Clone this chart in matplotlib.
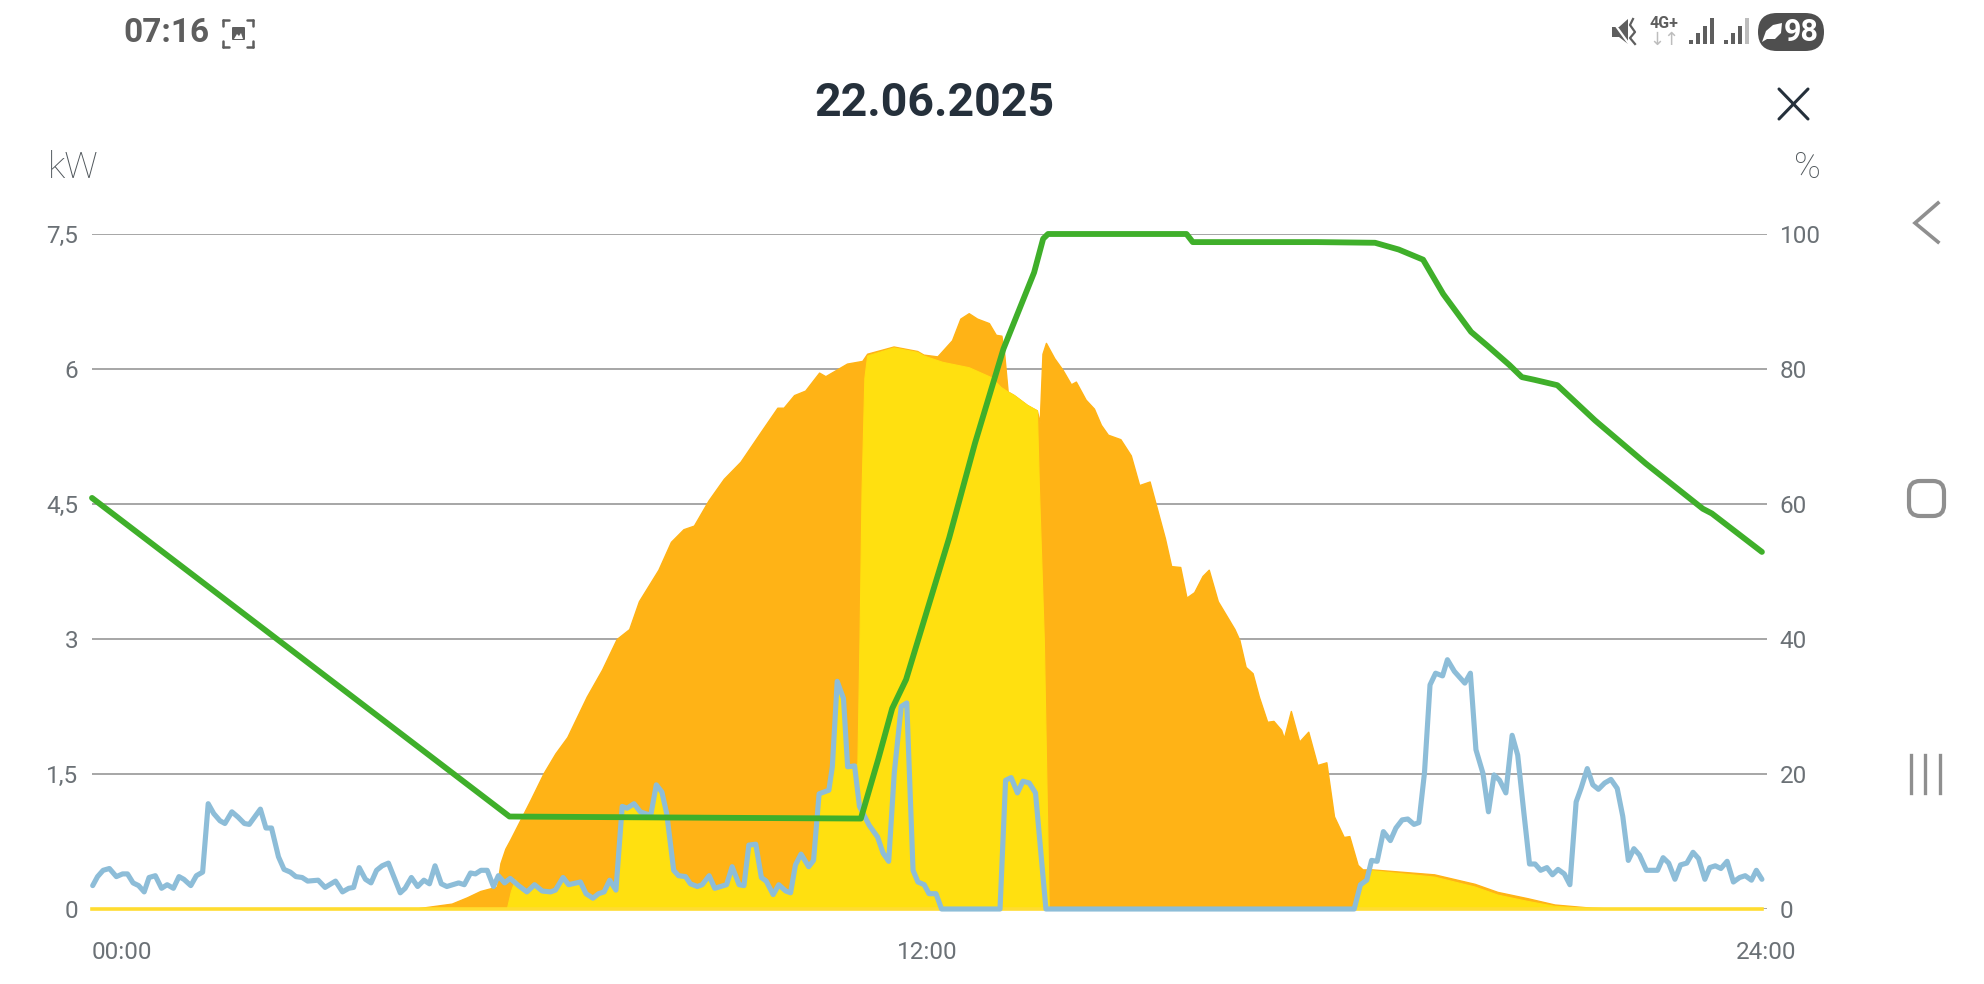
# Necessary library imports
import matplotlib
matplotlib.use('Agg')
import matplotlib.pyplot as plt
from matplotlib.patches import FancyBboxPatch, Polygon, Rectangle
from matplotlib.transforms import ScaledTranslation

# Chart values
hour_ticks = [0, 12, 24]
hour_labels = ['00:00', '12:00', '24:00']
kw_ticks = [0, 1.5, 3, 4.5, 6, 7.5]
kw_labels = ['0', '1,5', '3', '4,5', '6', '7,5']
pct_ticks = [0, 20, 40, 60, 80, 100]

# Battery level in percent
soc_hours = [0, 6.0, 9.23, 11.05, 11.3, 11.5, 11.7, 12.32, 12.69, 13.1, 13.54, 13.67, 13.74, 15.73, 15.82,
             17.6, 18.44, 18.78, 19.13, 19.42, 19.82, 20.06, 20.37, 20.55, 20.73, 21.06, 21.6, 22.33, 23.15,
             23.28, 24]
soc_pct = [60.9, 13.7, 13.5, 13.4, 22.2, 29.7, 34, 55, 69, 83, 94.3, 99.3, 100, 100, 98.8,
           98.8, 98.7, 97.7, 96.2, 91.1, 85.5, 83.4, 80.6, 78.8, 78.4, 77.6, 72.4, 66, 59.3,
           58.6, 52.9]

# Consumption
load_hours = [0.01, 0.08, 0.16, 0.25, 0.35, 0.44, 0.51, 0.59, 0.67, 0.75, 0.82, 0.91, 1.00, 1.08, 1.17, 1.25,
              1.32, 1.42, 1.50, 1.59, 1.67, 1.75, 1.84, 1.91, 2.01, 2.10, 2.19, 2.26, 2.42, 2.50, 2.58, 2.68,
              2.76, 2.85, 2.93, 3.02, 3.10, 3.25, 3.35, 3.50, 3.60, 3.69, 3.76, 3.84, 3.93, 4.01, 4.09, 4.17,
              4.26, 4.43, 4.50, 4.59, 4.68, 4.77, 4.85, 4.93, 5.02, 5.10, 5.27, 5.35, 5.44, 5.51, 5.59, 5.68,
              5.77, 5.84, 5.93, 6.01, 6.13, 6.25, 6.36, 6.47, 6.59, 6.66, 6.77, 6.85, 7.02, 7.10, 7.20, 7.28,
              7.36, 7.44, 7.53, 7.62, 7.69, 7.79, 7.88, 8.03, 8.11, 8.19, 8.26, 8.36, 8.43, 8.53, 8.60, 8.70,
              8.77, 8.87, 8.95, 9.12, 9.20, 9.30, 9.37, 9.44, 9.54, 9.62, 9.69, 9.79, 9.87, 9.97, 10.04, 10.11,
              10.19, 10.30, 10.37, 10.45, 10.59, 10.64, 10.71, 10.80, 10.86, 10.96, 11.03, 11.17, 11.29, 11.37,
              11.45, 11.53, 11.63, 11.71, 11.80, 11.87, 11.96, 12.03, 12.13, 12.21, 12.99, 13.05, 13.13, 13.21,
              13.30, 13.38, 13.47, 13.56, 13.71, 18.14, 18.23, 18.32, 18.39, 18.47, 18.56, 18.66, 18.74, 18.83,
              18.91, 19.00, 19.07, 19.15, 19.23, 19.31, 19.41, 19.48, 19.58, 19.73, 19.81, 19.89, 19.99, 20.07,
              20.15, 20.23, 20.32, 20.41, 20.49, 20.58, 20.66, 20.74, 20.82, 20.91, 20.99, 21.07, 21.16, 21.24,
              21.33, 21.40, 21.49, 21.57, 21.65, 21.74, 21.83, 21.92, 22.00, 22.08, 22.16, 22.24, 22.34, 22.50,
              22.58, 22.66, 22.75, 22.83, 22.92, 23.01, 23.09, 23.18, 23.25, 23.33, 23.41, 23.50, 23.59, 23.68,
              23.76, 23.85, 23.92, 24.0]
load_kw = [0.26, 0.36, 0.43, 0.45, 0.36, 0.39, 0.39, 0.29, 0.26, 0.19, 0.35, 0.37, 0.23, 0.27, 0.23, 0.36,
           0.33, 0.26, 0.37, 0.41, 1.17, 1.06, 0.98, 0.95, 1.08, 1.02, 0.95, 0.94, 1.11, 0.90, 0.90, 0.58,
           0.44, 0.41, 0.36, 0.35, 0.31, 0.32, 0.24, 0.31, 0.19, 0.23, 0.24, 0.46, 0.33, 0.29, 0.43, 0.48,
           0.51, 0.18, 0.23, 0.35, 0.25, 0.32, 0.28, 0.48, 0.28, 0.25, 0.29, 0.27, 0.40, 0.39, 0.43, 0.43,
           0.25, 0.37, 0.29, 0.34, 0.26, 0.19, 0.27, 0.20, 0.19, 0.21, 0.35, 0.27, 0.30, 0.17, 0.12, 0.17,
           0.19, 0.32, 0.21, 1.14, 1.12, 1.17, 1.08, 1.04, 1.38, 1.30, 1.06, 0.43, 0.37, 0.36, 0.28, 0.25,
           0.27, 0.37, 0.23, 0.27, 0.47, 0.27, 0.26, 0.71, 0.72, 0.35, 0.31, 0.16, 0.27, 0.20, 0.18, 0.49,
           0.61, 0.47, 0.54, 1.28, 1.32, 1.58, 2.53, 2.34, 1.58, 1.59, 1.14, 0.93, 0.80, 0.62,
           0.53, 1.51, 2.25, 2.29, 0.43, 0.30, 0.27, 0.17, 0.17, 0.0, 0.0, 0.0, 1.43, 1.46,
           1.29, 1.42, 1.40, 1.29, 0.0, 0.0, 0.27, 0.32, 0.54, 0.53, 0.86, 0.76, 0.90, 0.99,
           1.00, 0.94, 0.96, 1.51, 2.49, 2.62, 2.59, 2.77, 2.64, 2.51, 2.62, 1.77, 1.51, 1.08,
           1.49, 1.43, 1.29, 1.93, 1.71, 1.06, 0.50, 0.50, 0.43, 0.46, 0.38, 0.44, 0.39, 0.27,
           1.19, 1.34, 1.56, 1.38, 1.33, 1.40, 1.44, 1.34, 1.03, 0.54, 0.67, 0.60, 0.43, 0.43,
           0.57, 0.51, 0.33, 0.49, 0.51, 0.63, 0.56, 0.33, 0.46, 0.48, 0.45, 0.53, 0.30, 0.35,
           0.37, 0.32, 0.43, 0.33]

# Solar production
pv_hours = [0, 4.60, 5.17, 5.39, 5.58, 5.82, 5.87, 5.94, 6.01, 6.30, 6.49, 6.66, 6.83, 7.11, 7.33, 7.54, 7.72,
            7.86, 8.14, 8.32, 8.50, 8.65, 8.86, 9.08, 9.32, 9.61, 9.85, 9.94, 10.09, 10.25, 10.45, 10.54, 10.85,
            11.07, 11.14, 11.52, 11.86, 11.95, 12.15, 12.36, 12.48, 12.60, 12.72, 12.89, 12.99, 13.07, 13.11,
            13.16, 13.25, 13.44, 13.58, 13.62, 13.66, 13.71, 13.83, 13.95, 14.07, 14.14, 14.28, 14.40, 14.50,
            14.60, 14.78, 14.93, 15.05, 15.20, 15.42, 15.51, 15.64, 15.73, 15.84, 15.96, 16.05, 16.18, 16.42,
            16.49, 16.58, 16.68, 16.77, 16.89, 16.98, 17.09, 17.13, 17.23, 17.35, 17.48, 17.61, 17.74, 17.85,
            17.99, 18.07, 18.19, 18.26, 18.40, 19.29, 19.87, 20.20, 20.63, 21.02, 21.54, 22.0, 24.0]
pv_kw = [0, 0, 0.06, 0.13, 0.20, 0.25, 0.51, 0.67, 0.77, 1.21, 1.51, 1.73, 1.91, 2.36, 2.66, 3.0, 3.11,
         3.42, 3.77, 4.08, 4.22, 4.26, 4.54, 4.78, 4.97, 5.30, 5.57, 5.57, 5.71, 5.76, 5.96, 5.92, 6.06,
         6.09, 6.17, 6.25, 6.20, 6.16, 6.14, 6.32, 6.56, 6.62, 6.56, 6.51, 6.38, 6.37, 6.17,
         5.75, 5.71, 5.60, 5.54, 5.40, 6.17, 6.29, 6.12, 5.99, 5.83, 5.86, 5.66, 5.56, 5.38,
         5.27, 5.22, 5.04, 4.71, 4.75, 4.12, 3.81, 3.80, 3.46, 3.52, 3.70, 3.77, 3.42, 3.11,
         2.99, 2.69, 2.62, 2.36, 2.08, 2.09, 1.99, 1.90, 2.20, 1.86, 1.97, 1.60, 1.63, 1.03,
         0.80, 0.81, 0.49, 0.44, 0.44, 0.385, 0.28, 0.19, 0.12, 0.05, 0.015, 0, 0]

# Solar used directly in the house and battery
direct_hours = [0, 5.96, 6.02, 6.08, 6.13, 6.25, 6.36, 6.47, 6.59, 6.66, 6.77, 6.85, 7.02, 7.10, 7.20, 7.28,
                7.36, 7.44, 7.53, 7.62, 7.69, 7.79, 7.88, 8.03, 8.11, 8.19, 8.26, 8.36, 8.43, 8.53, 8.60, 8.70,
                8.77, 8.87, 8.95, 9.12, 9.20, 9.30, 9.37, 9.44, 9.54, 9.62, 9.69, 9.79, 9.87, 9.97, 10.04, 10.11,
                10.19, 10.30, 10.37, 10.45, 10.59, 10.64, 10.71, 10.80, 10.86, 10.96, 11.00, 11.03, 11.06, 11.10, 11.14,
                11.52, 11.86, 11.95, 12.22, 12.60, 12.92, 13.06, 13.16, 13.25, 13.44, 13.58, 13.61, 13.68, 13.75,
                18.16, 18.23, 18.32, 18.39, 18.40, 19.29, 19.87, 20.20, 20.63, 21.02, 21.54, 22.0, 24.0]
direct_kw = [0, 0, 0.2, 0.33, 0.26, 0.19, 0.27, 0.20, 0.19, 0.21, 0.35, 0.27, 0.30, 0.17, 0.12, 0.17,
             0.19, 0.32, 0.21, 1.14, 1.12, 1.17, 1.08, 1.04, 1.38, 1.30, 1.06, 0.43, 0.37, 0.36, 0.28, 0.25,
             0.27, 0.37, 0.23, 0.27, 0.47, 0.27, 0.26, 0.71, 0.72, 0.35, 0.31, 0.16, 0.27, 0.20, 0.18, 0.49,
             0.61, 0.47, 0.54, 1.28, 1.32, 1.58, 2.53, 2.34, 1.58, 1.59, 1.62, 2.99, 4.66, 5.90, 6.15,
             6.24, 6.19, 6.15, 6.08, 6.02, 5.91, 5.80, 5.75, 5.71, 5.60, 5.54, 4.66, 2.99, 0,
             0, 0.27, 0.32, 0.43, 0.43, 0.36, 0.25, 0.16, 0.09, 0.035, 0.01, 0, 0]

# Color palette
orange = '#FFB316'
yellow = '#FFE010'
lightBlue = '#8DBDD8'
green = '#3FAF2A'
gridGrey = '#A6A6A6'
textGrey = '#6B7176'
headGrey = '#50575C'
iconGrey = '#5E5E5E'
navGrey = '#8F8F8F'
titleDark = '#25303B'

plt.rcParams['font.family'] = ['Roboto', 'DejaVu Sans']

W, H = 1984, 984
fig = plt.figure(figsize = (W/100, H/100), dpi = 100, facecolor = 'white')

# Plot area: 00:00 at x=92, 7.5 kW at y=234, 0 at y=909
left, right, top, bottom = 92, 1767, 234, 909
ax = fig.add_axes([left/W, 1 - bottom/H, (right - left)/W, (bottom - top)/H])
ax.set_xlim(0, (right - left)/69.58)
ax.set_ylim(0, 7.5)
ax.set_facecolor('none')
for side in ax.spines.values():
    side.set_visible(False)

ax.set_yticks(kw_ticks)
ax.set_yticklabels(kw_labels)
ax.tick_params(axis = 'y', length = 0, pad = 10, labelsize = 17.5, labelcolor = textGrey)
ax.grid(axis = 'y', color = gridGrey, linewidth = 1.4, zorder = 0)
ax.set_axisbelow(True)

ax.set_xticks(hour_ticks)
ax.set_xticklabels(hour_labels)
ax.tick_params(axis = 'x', length = 0, pad = 23, labelsize = 17.5, labelcolor = textGrey)
tick_text = ax.get_xticklabels()
tick_text[0].set_ha('left')
tick_text[2].set_transform(tick_text[2].get_transform() + ScaledTranslation(4/100, 0, fig.dpi_scale_trans))

ax.fill_between(pv_hours, pv_kw, 0, color = orange, linewidth = 1, zorder = 2)
ax.fill_between(direct_hours, direct_kw, 0, color = yellow, linewidth = 0.8, zorder = 3)
ax.plot([hour_ticks[0], hour_ticks[-1]], [0, 0], color = '#FFDC30', linewidth = 2.6, clip_on = False, zorder = 3)
ax.plot(load_hours, load_kw, color = lightBlue, linewidth = 3.7, clip_on = False, zorder = 4,
        solid_joinstyle = 'round', solid_capstyle = 'round')

# Right axis for the battery level
ax2 = ax.twinx()
ax2.set_ylim(0, 100)
ax2.set_facecolor('none')
for side in ax2.spines.values():
    side.set_visible(False)
ax2.set_yticks(pct_ticks)
ax2.tick_params(axis = 'y', length = 0, pad = 9, labelsize = 17.5, labelcolor = textGrey)
ax2.plot(soc_hours, soc_pct, color = green, linewidth = 4.2, clip_on = False, zorder = 5,
         solid_joinstyle = 'round', solid_capstyle = 'round')

# Overlay in pixel coordinates for the phone screen around the chart
ui = fig.add_axes([0, 0, 1, 1])
ui.set_xlim(0, W)
ui.set_ylim(H, 0)
ui.axis('off')
ui.patch.set_alpha(0)

ui.text(934.5, 103, '22.06.2025', fontsize = 33.5, fontweight = 'bold', color = titleDark, ha = 'center', va = 'center')
ui.text(48, 168, 'kW', fontsize = 26.5, fontweight = 'light', color = headGrey, ha = 'left', va = 'center')
ui.text(1807, 168, '%', fontsize = 26, fontweight = 'light', color = headGrey, ha = 'center', va = 'center')
ui.text(123, 33, '07:16', fontsize = 24, fontweight = 'bold', color = iconGrey, ha = 'left', va = 'center')

# Close cross
ui.plot([1779, 1808], [89, 119], color = titleDark, linewidth = 2.2, solid_capstyle = 'round')
ui.plot([1779, 1808], [119, 89], color = titleDark, linewidth = 2.2, solid_capstyle = 'round')

# Screenshot icon
for x0, x1, y0, y1 in [(223, 229, 20, 20), (223, 223, 20, 26), (247, 253, 20, 20), (253, 253, 20, 26),
                       (223, 229, 47, 47), (223, 223, 41, 47), (247, 253, 47, 47), (253, 253, 41, 47)]:
    ui.plot([x0, x1], [y0, y1], color = iconGrey, linewidth = 1.8, solid_capstyle = 'round')
ui.add_patch(FancyBboxPatch((233, 28), 11, 11, boxstyle = 'round,pad=1', facecolor = iconGrey, edgecolor = 'none'))
ui.add_patch(Polygon([(234, 39), (237, 34), (239, 36), (241, 33), (243, 39)], facecolor = 'white', edgecolor = 'none'))

# Muted speaker
ui.add_patch(Polygon([(1612, 27), (1619, 27), (1628, 19), (1628, 44), (1619, 37), (1612, 37)], facecolor = iconGrey))
ui.plot([1611, 1629], [19, 44], color = 'white', linewidth = 1.6)
ui.plot([1633, 1630, 1635, 1630, 1635], [19, 25, 32, 38, 44], color = iconGrey, linewidth = 1.6)

# Network type and arrows
ui.text(1664, 24, '4G+', fontsize = 11.5, fontweight = 'bold', color = iconGrey, ha = 'center', va = 'center')
ui.text(1664, 40, '↓↑', fontsize = 13, color = '#BDBDBD', ha = 'center', va = 'center', family = ['DejaVu Sans'])

# Signal bars
for start, last_color in [(1689, iconGrey), (1724, '#BDBDBD')]:
    for i, bar_height in enumerate([4, 11, 18, 26]):
        bar_color = last_color if i == 3 else iconGrey
        ui.add_patch(Rectangle((start + i*7, 44 - bar_height), 3.6, bar_height, facecolor = bar_color, edgecolor = 'none'))

# Battery pill
ui.add_patch(FancyBboxPatch((1758, 13), 66, 38, boxstyle = 'round,pad=0,rounding_size=19',
                            facecolor = '#4F4F4F', edgecolor = 'none'))
ui.add_patch(Polygon([(1762, 42), (1766, 31), (1773, 25), (1782, 23), (1781, 33), (1775, 39), (1767, 39)],
                     facecolor = 'white', edgecolor = 'none'))
ui.text(1801, 32, '98', fontsize = 22, fontweight = 'bold', color = 'white', ha = 'center', va = 'center')

# Android navigation buttons
ui.plot([1938, 1915, 1938], [203, 223, 242], color = navGrey, linewidth = 2.6, solid_joinstyle = 'miter')
ui.add_patch(FancyBboxPatch((1914, 486), 25, 25, boxstyle = 'round,pad=5,rounding_size=11',
                            facecolor = 'none', edgecolor = navGrey, linewidth = 3))
for bar_x in [1911, 1925, 1940]:
    ui.plot([bar_x, bar_x], [755, 793], color = navGrey, linewidth = 2.4)

plt.savefig('out.png', dpi = 100)
plt.close(fig)
